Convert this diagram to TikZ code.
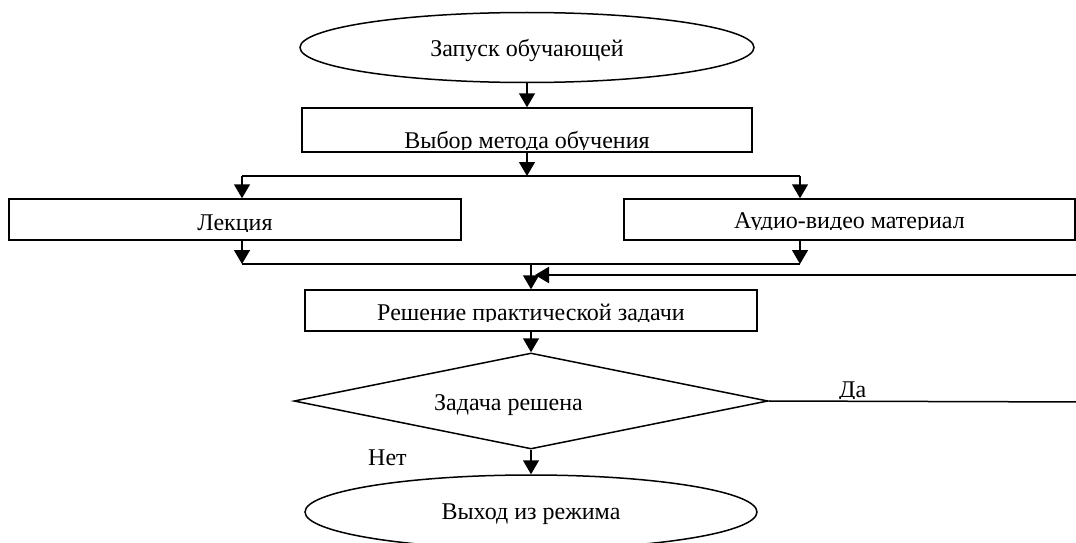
\documentclass[tikz,border=0pt]{standalone}
\usepackage{fontspec}
\setmainfont{Liberation Serif}
\usetikzlibrary{arrows.meta,shapes.geometric}
\tikzset{
  ln/.style={line width=1.5pt},
  arr/.style={ln,-{Triangle[length=14pt,width=16pt]}},
  fnt/.style={font=\fontsize{24}{28}\selectfont},
  oval/.style={ellipse, draw, ln, inner sep=0pt, fnt, text depth=0pt},
  pbox/.style={rectangle, draw, ln, inner sep=0pt},
  boxtext/.style 2 args={path picture={
    \clip ([yshift=#2]path picture bounding box.south west) rectangle (path picture bounding box.north east);
    \node[anchor=base, inner sep=0pt, draw=none, fill=none, fnt] at ([yshift=#2+1pt]path picture bounding box.south) {#1};}},
  lbl/.style={fnt, anchor=base west, inner sep=0pt},
}
\begin{document}
\begin{tikzpicture}[x=1pt,y=-1pt]
\clip (0,0) rectangle (1076,543);
\fill[white] (0,0) rectangle (1076,543);
\node[oval, minimum width=454pt, minimum height=70pt, text height=19pt] (e1) at (527,47.5) {Запуск обучающей};
\node[pbox, minimum width=450pt, minimum height=44pt, boxtext={Выбор метода обучения}{3pt}] (b1) at (527,130) {};
\node[pbox, minimum width=452pt, minimum height=41pt, boxtext={Лекция}{9pt}] (b2) at (235,219.5) {};
\node[pbox, minimum width=451pt, minimum height=41pt, boxtext={Аудио-видео материал}{11pt}] (b3) at (849.5,219.5) {};
\node[pbox, minimum width=452pt, minimum height=41pt, boxtext={Решение практической задачи}{10pt}] (b4) at (531,310.5) {};
\node[diamond, draw, ln, inner sep=0pt, minimum width=474pt, minimum height=96pt] (d) at (531,401) {};
\node[lbl] (dt) at (434,410) {Задача решена};
\node[oval, minimum width=452pt, minimum height=74pt, text height=14pt] (e2) at (531,512) {Выход из режима};
\node[lbl] (no) at (368,465) {Нет};
\begin{scope}
\clip (830,370) rectangle (880,398);
\node[lbl] (yes) at (839,397.5) {Да};
\end{scope}
\coordinate (sL) at (242,176);
\coordinate (sR) at (800,176);
\coordinate (mL) at (242,264);
\coordinate (mR) at (800,264);
\coordinate (fb1) at (1090,402);
\coordinate (fb2) at (1090,275);
\coordinate (fbT) at (535,275);
\draw[arr] (e1.south) -- (b1.north);
\draw[arr] (b1.south) -- (b1.south |- sL);
\draw[ln] (sL) -- (sR);
\draw[arr] (sL) -- (sL |- b2.north);
\draw[arr] (sR) -- (sR |- b3.north);
\draw[arr] (mL |- b2.south) -- (mL);
\draw[arr] (mR |- b3.south) -- (mR);
\draw[ln] (mL) -- (mR);
\draw[arr] (b4.north |- mL) -- (b4.north);
\draw[arr] (b4.south) -- (d.north);
\draw[arr] (d.south) -- (e2.north);
\draw[ln] (d.east) -- (fb1) -- (fb2);
\draw[arr, line width=2.2pt] (fb2) -- (fbT);
\end{tikzpicture}
\end{document}
